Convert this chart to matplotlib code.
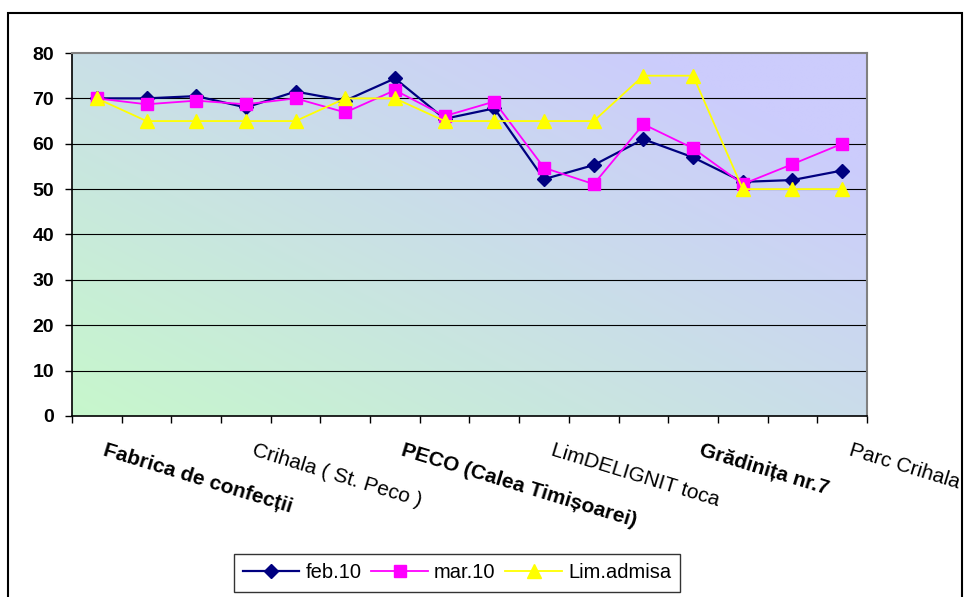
import numpy as np
import matplotlib.pyplot as plt
from matplotlib.patches import Rectangle

# -----------------------------
# Data: noise levels per measuring point
# -----------------------------
feb10 = [70.0, 70.0, 70.5, 68.0, 71.5, 69.5, 74.4, 65.5,
         67.8, 52.2, 55.3, 61.0, 57.0, 51.6, 52.0, 54.1]
mar10 = [70.0, 68.7, 69.5, 68.7, 70.0, 66.9, 71.8, 66.1,
         69.3, 54.7, 51.1, 64.3, 59.0, 51.1, 55.5, 60.0]
lim_admisa = [70, 65, 65, 65, 65, 70, 70, 65,
              65, 65, 65, 75, 75, 50, 50, 50]

# only every third location gets a label on the axis
tick_labels = ["Fabrica de confecții", "Crihala ( St. Peco )",
               "PECO (Calea Timișoarei)", "LimDELIGNIT toca",
               "Grădinița nr.7", "Parc Crihala"]
heavy_labels = [True, False, True, False, True, False]

y_ticks = [0, 10, 20, 30, 40, 50, 60, 70, 80]

plt.rcParams['font.family'] = ['Liberation Sans', 'DejaVu Sans']

fig = plt.figure(figsize=(9.7, 5.97), dpi=100)
ax = fig.add_axes([72 / 970, 1 - 416 / 597, 795 / 970, 363 / 597])

# outer chart border
fig.patches.append(Rectangle((8 / 970, -0.05), 954 / 970, 1.05 - 13 / 597,
                             transform=fig.transFigure, fill=False,
                             edgecolor='black', linewidth=1.5))

# diagonal gradient fill of the plot area
gx, gy = np.meshgrid(np.linspace(0, 1, 200), np.linspace(0, 1, 200))
t = np.clip(0.62 * gx + 0.55 * gy, 0, 1)[..., None]
c0 = np.array([0.78, 0.97, 0.80])
c1 = np.array([0.80, 0.80, 0.99])
ax.imshow(c0 + (c1 - c0) * t, extent=[0, 1, 0, 1], transform=ax.transAxes,
          origin='lower', aspect='auto', zorder=0, interpolation='bilinear')

x = np.arange(len(feb10))

for yv in y_ticks[1:-1]:
    ax.axhline(yv, color='black', linewidth=0.8, zorder=1)

ax.plot(x, feb10, color='#000080', marker='D', markersize=7, linewidth=1.6,
        label='feb.10', zorder=3)
ax.plot(x, mar10, color='#ff00ff', marker='s', markersize=8, linewidth=1.3,
        label='mar.10', zorder=4)
ax.plot(x, lim_admisa, color='#ffff00', marker='^', markersize=10, linewidth=1.3,
        label='Lim.admisa', zorder=5)

ax.set_xlim(-0.5, len(feb10) - 0.5)
ax.set_ylim(0, 80)
ax.set_yticks(y_ticks)
ax.set_yticklabels([str(v) for v in y_ticks], fontsize=14, fontweight='bold')
ax.tick_params(axis='y', direction='out', length=5, width=1, pad=8)

# ticks between categories, labels on every third category
ax.set_xticks(np.arange(len(feb10) + 1) - 0.5)
ax.set_xticklabels([])
ax.tick_params(axis='x', direction='out', length=5, width=1)
for pos, lab, heavy in zip(range(0, len(feb10), 3), tick_labels, heavy_labels):
    ax.text(pos + 0.2, -5.5, lab, rotation=-17, rotation_mode='anchor',
            ha='left', va='top', fontsize=15,
            fontweight='bold' if heavy else 'normal', clip_on=False)

for side in ['top', 'right']:
    ax.spines[side].set_color('#808080')
    ax.spines[side].set_linewidth(1.5)
for side in ['left', 'bottom']:
    ax.spines[side].set_color('black')
    ax.spines[side].set_linewidth(1.2)

leg = fig.legend(loc='center', bbox_to_anchor=(457 / 970, 1 - 573 / 597),
                 ncol=3, fontsize=14.5, frameon=True, fancybox=False,
                 handlelength=2.8, columnspacing=0.5, handletextpad=0.3,
                 borderpad=0.45, borderaxespad=0)
leg.get_frame().set_edgecolor('black')
leg.get_frame().set_linewidth(1)

fig.savefig("out.png", dpi=100)
